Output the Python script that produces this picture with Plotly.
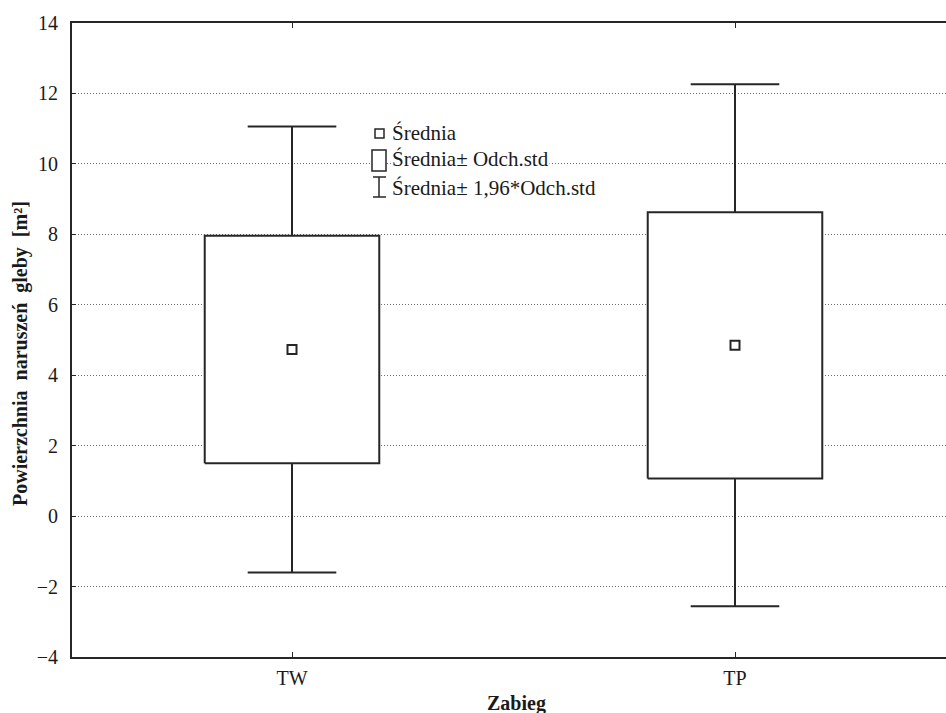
import plotly.graph_objects as go

# Treatment groups and summary statistics of the disturbed soil area [m²]
categories = ["TW", "TP"]
means = [4.73, 4.85]
std_devs = [3.23, 3.78]
z_factor = 1.96

y_ticks = [-4, -2, 0, 2, 4, 6, 8, 10, 12, 14]

# Layout geometry (pixels)
W, H = 946, 713
M_L, M_R, M_T, M_B = 72, 0, 23, 56
PLOT_W = W - M_L - M_R
PLOT_H = H - M_T - M_B
X0_PX, X1_PX = 292, 735          # pixel centres of the two groups
unit = X1_PX - X0_PX
x_range = [-(X0_PX - M_L) / unit, (W - M_R - X0_PX) / unit]

BOX_HALF = 0.197
CAP_HALF = 0.10
INK = "#262626"
FONT = '"Liberation Serif", "Times New Roman", serif'


def px(xp, yp):
    """Convert pixel position in the figure to paper coordinates."""
    return (xp - M_L) / PLOT_W, (H - M_B - yp) / PLOT_H


fig = go.Figure()

# Mean ± SD boxes
for i, (m, s) in enumerate(zip(means, std_devs)):
    fig.add_trace(go.Scatter(
        x=[i - BOX_HALF, i + BOX_HALF, i + BOX_HALF, i - BOX_HALF, i - BOX_HALF],
        y=[m - s, m - s, m + s, m + s, m - s],
        mode="lines", fill="toself", fillcolor="white",
        line=dict(color=INK, width=2), hoverinfo="skip", showlegend=False,
    ))

# Whiskers: mean ± 1.96*SD, drawn outside the box with caps
for i, (m, s) in enumerate(zip(means, std_devs)):
    hi, lo = m + z_factor * s, m - z_factor * s
    fig.add_trace(go.Scatter(
        x=[i, i, None, i - CAP_HALF, i + CAP_HALF, None,
           i, i, None, i - CAP_HALF, i + CAP_HALF],
        y=[m + s, hi, None, hi, hi, None,
           m - s, lo, None, lo, lo],
        mode="lines", line=dict(color=INK, width=2),
        hoverinfo="skip", showlegend=False,
    ))

# Means
fig.add_trace(go.Scatter(
    x=list(range(len(categories))), y=means, mode="markers",
    marker=dict(symbol="square-open", size=9, color=INK, line=dict(width=2)),
    showlegend=False,
))

shapes = []
annotations = []

# Hand-drawn legend
sx0, sy0 = px(375, 129)
sx1, sy1 = px(384, 138)
shapes.append(dict(type="rect", xref="paper", yref="paper", x0=sx0, x1=sx1,
                   y0=sy1, y1=sy0, line=dict(color=INK, width=1.5),
                   fillcolor="white", layer="above"))

bx0, by0 = px(372, 150)
bx1, by1 = px(386, 171)
shapes.append(dict(type="rect", xref="paper", yref="paper", x0=bx0, x1=bx1,
                   y0=by1, y1=by0, line=dict(color=INK, width=1.5),
                   fillcolor="white", layer="above"))

wx, wy_top = px(379, 177)
_, wy_bot = px(379, 197)
cx0, _ = px(373, 0)
cx1, _ = px(386, 0)
shapes.append(dict(type="line", xref="paper", yref="paper", x0=wx, x1=wx,
                   y0=wy_top, y1=wy_bot, line=dict(color=INK, width=1.5)))
shapes.append(dict(type="line", xref="paper", yref="paper", x0=cx0, x1=cx1,
                   y0=wy_top, y1=wy_top, line=dict(color=INK, width=1.5)))
shapes.append(dict(type="line", xref="paper", yref="paper", x0=cx0, x1=cx1,
                   y0=wy_bot, y1=wy_bot, line=dict(color=INK, width=1.5)))

legend_rows = [
    ("Średnia", 133),
    ("Średnia± Odch.std", 159),
    ("Średnia± 1,96*Odch.std", 188),
]
for text, yp in legend_rows:
    ax, ay = px(391, yp)
    annotations.append(dict(
        x=ax, y=ay, xref="paper", yref="paper", text=text, showarrow=False,
        xanchor="left", yanchor="middle", bgcolor="white", borderpad=0,
        font=dict(family=FONT, size=21, color="#1a1a1a"),
    ))

# Axis titles
tx, ty = px(20, 354)
annotations.append(dict(
    x=tx, y=ty, xref="paper", yref="paper",
    text="<b>Powierzchnia  naruszeń  gleby  [m²]</b>", textangle=-90,
    showarrow=False, xanchor="center", yanchor="middle",
    font=dict(family=FONT, size=20, color="#1a1a1a"),
))
tx, ty = px(516, 703)
annotations.append(dict(
    x=tx, y=ty, xref="paper", yref="paper", text="<b>Zabieg</b>",
    showarrow=False, xanchor="center", yanchor="middle",
    font=dict(family=FONT, size=20, color="#1a1a1a"),
))

fig.update_layout(
    width=W, height=H,
    margin=dict(l=M_L, r=M_R, t=M_T, b=M_B),
    paper_bgcolor="white", plot_bgcolor="white",
    font=dict(family=FONT, size=19, color="#1a1a1a"),
    shapes=shapes, annotations=annotations,
    showlegend=False,
)

fig.update_xaxes(
    range=x_range, tickvals=list(range(len(categories))), ticktext=categories,
    showgrid=False, zeroline=False, showline=True, linecolor=INK, linewidth=2,
    mirror="ticks", ticks="inside", ticklen=5, tickcolor=INK,
    ticklabelstandoff=2, tickfont=dict(family=FONT, size=20, color="#1a1a1a"),
)
fig.update_yaxes(
    range=[-4, 14], tickvals=y_ticks,
    showgrid=True, gridcolor="#6e6e6e", griddash="1px,2px", gridwidth=1,
    zeroline=False, showline=True, linecolor=INK, linewidth=2, mirror=False,
    ticks="inside", ticklen=4, tickcolor=INK,
    ticklabelstandoff=8, tickfont=dict(family=FONT, size=20, color="#1a1a1a"),
)

fig.write_html("out.html")
